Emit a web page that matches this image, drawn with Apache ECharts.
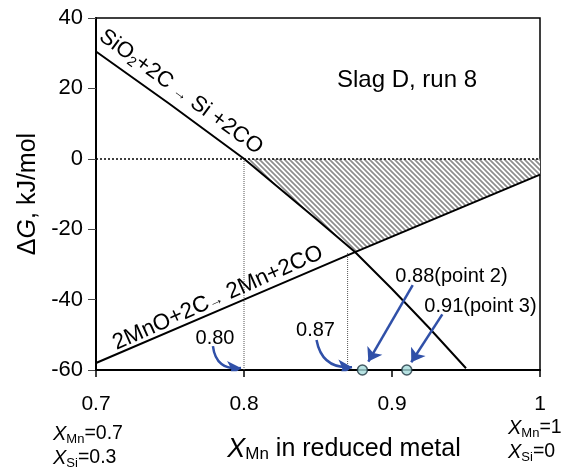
<!DOCTYPE html>
<html>
<head>
<meta charset="utf-8">
<script src="https://cdn.jsdelivr.net/npm/echarts@6/dist/echarts.min.js"></script>
<style>
  html, body { margin: 0; padding: 0; background: #fff; }
  #chart { width: 571px; height: 473px; }
</style>
</head>
<body>
<div id="chart"></div>
<script>
// Gibbs energy of the two carbothermic reduction reactions against X_Mn of the metal
const siX  = [0.70, 0.75, 0.80, 0.85, 0.875, 0.90, 0.925, 0.95];
const siDG = [30.5, 15.5, 0, -17.5, -26.5, -37, -48, -59.5];
const mnX  = [0.70, 0.80, 0.875, 1.00];
const mnDG = [-58, -40, -26.5, -4.5];

const xTicks = [0.7, 0.8, 0.9, 1];
const yTicks = [-60, -40, -20, 0, 20, 40];

// dotted guides dropped to the axis and the composition each one marks
const guideX   = [0.80, 0.87];
const guideTop = [0, -26.5];

// measured metal compositions
const pointX  = [0.88, 0.91];
const pointDG = [-60, -60];

const FONT = '"Liberation Sans", Arial, Helvetica, sans-serif';
const xMin = xTicks[0], xMax = xTicks[xTicks.length - 1];
const yMin = yTicks[0], yMax = yTicks[yTicks.length - 1];

function interp(xs, ys, x) {
  if (x <= xs[0]) return ys[0];
  for (let i = 1; i < xs.length; i++) {
    if (x <= xs[i]) {
      const t = (x - xs[i - 1]) / (xs[i] - xs[i - 1]);
      return ys[i - 1] + t * (ys[i] - ys[i - 1]);
    }
  }
  return ys[ys.length - 1];
}

// region where both reactions are spontaneous: below ΔG = 0, above both lines
function hatchPolygon() {
  let x0 = siX[0];
  for (let i = 1; i < siX.length; i++) {
    if (siDG[i - 1] >= 0 && siDG[i] <= 0) {
      x0 = siX[i - 1] + (0 - siDG[i - 1]) / (siDG[i] - siDG[i - 1]) * (siX[i] - siX[i - 1]);
      break;
    }
  }
  const xs = Array.from(new Set(siX.concat(mnX))).filter(x => x <= siX[siX.length - 1]).sort((a, b) => a - b);
  let xi = xs[0], yi = 0;
  for (let i = 1; i < xs.length; i++) {
    const d0 = interp(siX, siDG, xs[i - 1]) - interp(mnX, mnDG, xs[i - 1]);
    const d1 = interp(siX, siDG, xs[i]) - interp(mnX, mnDG, xs[i]);
    if (d0 >= 0 && d1 <= 0) {
      xi = xs[i - 1] + d0 / (d0 - d1) * (xs[i] - xs[i - 1]);
      yi = interp(mnX, mnDG, xi);
      break;
    }
  }
  const pts = [[x0, 0], [xMax, 0], [xMax, interp(mnX, mnDG, xMax)]];
  for (let i = mnX.length - 1; i >= 0; i--) if (mnX[i] > xi && mnX[i] < xMax) pts.push([mnX[i], mnDG[i]]);
  pts.push([xi, yi]);
  for (let i = siX.length - 1; i >= 0; i--) if (siX[i] < xi && siX[i] > x0) pts.push([siX[i], siDG[i]]);
  return pts;
}

function stripePattern() {
  const s = 10, p = 5;
  const c = document.createElement('canvas');
  c.width = s; c.height = s;
  const g = c.getContext('2d');
  g.fillStyle = '#ffffff';
  g.fillRect(0, 0, s, s);
  g.strokeStyle = '#8e8e8e';
  g.lineWidth = 1.7;
  g.beginPath();
  for (let k = -2 * s; k <= 2 * s; k += p) {
    g.moveTo(-s, k - s);
    g.lineTo(2 * s, k + 2 * s);
  }
  g.stroke();
  return { image: c, repeat: 'repeat' };
}

const hatchPts = hatchPolygon();
const pattern = stripePattern();

function reactionRich(size) {
  return {
    n: { fontFamily: FONT, fontSize: size, color: '#000' },
    s: { fontFamily: FONT, fontSize: 14, color: '#000', padding: [10, 0, 0, 0] },
    a: { fontFamily: FONT, fontSize: 15, color: '#000', padding: [4, 0, 0, 0] }
  };
}

function subRich(size, xSize, sub, lh) {
  return {
    x: { fontFamily: FONT, fontSize: xSize, fontStyle: 'italic', color: '#000', lineHeight: lh },
    t: { fontFamily: FONT, fontSize: size, color: '#000', lineHeight: lh },
    s: { fontFamily: FONT, fontSize: sub, color: '#000', padding: [11, 0, 0, 0] }
  };
}

const BLUE = '#3050a8';
const arrows = [
  { coords: [[0.779, -53.2], [0.798, -59.4]], lineStyle: { curveness: -0.5 } },
  { coords: [[0.849, -51.5], [0.873, -59.2]], lineStyle: { curveness: -0.45 } },
  { coords: [[0.914, -35.9], [0.884, -57.6]], lineStyle: { curveness: 0 } },
  { coords: [[0.934, -44.2], [0.913, -57.8]], lineStyle: { curveness: 0 } }
];

const chart = echarts.init(document.getElementById('chart'), null, { renderer: 'canvas' });

chart.setOption({
  animation: false,
  backgroundColor: '#fff',
  grid: {
    left: 96, right: 31, top: 18, bottom: 103,
    show: true, borderColor: '#000', borderWidth: 1.5, backgroundColor: 'transparent'
  },
  xAxis: {
    type: 'value',
    min: xMin, max: xMax, interval: 0.1,
    axisLine: { onZero: false, lineStyle: { color: '#000', width: 2 } },
    axisTick: { show: true, length: 7, lineStyle: { color: '#000', width: 1.5 } },
    axisLabel: {
      margin: 24, color: '#000', fontFamily: FONT, fontSize: 21,
      formatter: v => {
        const r = Math.round(v * 10) / 10;
        return r === 1 ? '1' : r.toFixed(1);
      }
    },
    splitLine: { show: false }
  },
  yAxis: {
    type: 'value',
    min: yMin, max: yMax, interval: 20,
    name: '{d|Δ}{g|G}{d|, kJ/mol}',
    nameLocation: 'middle', nameRotate: 90, nameGap: 55,
    nameTextStyle: {
      rich: {
        d: { fontFamily: FONT, fontSize: 25, color: '#000' },
        g: { fontFamily: FONT, fontSize: 25, fontStyle: 'italic', color: '#000' }
      }
    },
    axisLine: { onZero: false, lineStyle: { color: '#000', width: 2 } },
    axisTick: { show: true, length: 8, lineStyle: { color: '#444', width: 1 } },
    axisLabel: { margin: 13, color: '#000', fontFamily: FONT, fontSize: 22 },
    splitLine: { show: false }
  },
  series: [
    {
      type: 'custom',
      silent: true,
      z: 1,
      data: [0],
      renderItem: (params, api) => ({
        type: 'polygon',
        shape: { points: hatchPts.map(p => api.coord(p)) },
        style: { fill: pattern, stroke: null }
      })
    },
    {
      type: 'line',
      silent: true,
      z: 3,
      data: [],
      markLine: {
        silent: true, symbol: 'none', label: { show: false },
        lineStyle: { color: '#000', width: 1.5, type: [2, 2] },
        data: [{ yAxis: 0 }]
      }
    },
    ...guideX.map((gx, i) => ({
      type: 'line',
      silent: true,
      z: 2,
      showSymbol: false,
      data: [[gx, yMin], [gx, guideTop[i]]],
      lineStyle: { color: '#555', width: 1, type: [1, 1] }
    })),
    {
      type: 'line',
      name: 'SiO2 + 2C → Si + 2CO',
      z: 4,
      showSymbol: false,
      data: siX.map((x, i) => [x, siDG[i]]),
      lineStyle: { color: '#000', width: 2 }
    },
    {
      type: 'line',
      name: '2MnO + 2C → 2Mn + 2CO',
      z: 4,
      showSymbol: false,
      data: mnX.map((x, i) => [x, mnDG[i]]),
      lineStyle: { color: '#000', width: 2 }
    },
    {
      type: 'lines',
      coordinateSystem: 'cartesian2d',
      silent: true,
      z: 5,
      symbol: ['none', 'arrow'],
      symbolSize: 13,
      lineStyle: { color: BLUE, width: 2.5, opacity: 1 },
      data: arrows
    },
    {
      type: 'scatter',
      z: 6,
      clip: false,
      symbol: 'circle',
      symbolSize: 10,
      itemStyle: { color: '#a6dcdc', borderColor: '#1e3440', borderWidth: 1.5 },
      data: pointX.map((x, i) => [x, pointDG[i]])
    }
  ],
  graphic: [
    {
      type: 'text', x: 181, y: 92, rotation: -0.63, z: 10,
      style: {
        text: '{n|SiO}{s|2}{n|+2C }{a|→}{n| Si +2CO}',
        rich: reactionRich(22), align: 'center', verticalAlign: 'middle'
      }
    },
    {
      type: 'text', x: 218, y: 298, rotation: 0.42, z: 10,
      style: {
        text: '{n|2MnO+2C}{a|→}{n| 2Mn+2CO}',
        rich: reactionRich(22.5), align: 'center', verticalAlign: 'middle'
      }
    },
    {
      type: 'text', x: 407, y: 80, z: 10,
      style: { text: 'Slag D, run 8', font: '24px ' + FONT, fill: '#000', align: 'center', verticalAlign: 'middle' }
    },
    {
      type: 'text', x: 215, y: 338, z: 10,
      style: { text: '0.80', font: '20px ' + FONT, fill: '#000', align: 'center', verticalAlign: 'middle' }
    },
    {
      type: 'text', x: 315.5, y: 330, z: 10,
      style: { text: '0.87', font: '20px ' + FONT, fill: '#000', align: 'center', verticalAlign: 'middle' }
    },
    {
      type: 'text', x: 451.5, y: 276, z: 10,
      style: { text: '0.88(point 2)', font: '20px ' + FONT, fill: '#000', align: 'center', verticalAlign: 'middle' }
    },
    {
      type: 'text', x: 480.5, y: 306.5, z: 10,
      style: { text: '0.91(point 3)', font: '20px ' + FONT, fill: '#000', align: 'center', verticalAlign: 'middle' }
    },
    {
      type: 'text', x: 344, y: 449, z: 10,
      style: {
        text: '{x|X}{s|Mn}{t| in reduced metal}',
        rich: subRich(25, 27, 17, 28), align: 'center', verticalAlign: 'middle'
      }
    },
    {
      type: 'text', x: 53, y: 446, z: 10,
      style: {
        text: '{x|X}{s|Mn}{t|=0.7}\n{x|X}{s|Si}{t|=0.3}',
        rich: subRich(19.5, 20, 13, 23), align: 'left', verticalAlign: 'middle'
      }
    },
    {
      type: 'text', x: 508, y: 440, z: 10,
      style: {
        text: '{x|X}{s|Mn}{t|=1}\n{x|X}{s|Si}{t|=0}',
        rich: subRich(19.5, 20, 13, 23), align: 'left', verticalAlign: 'middle'
      }
    }
  ]
});
</script>
</body>
</html>
